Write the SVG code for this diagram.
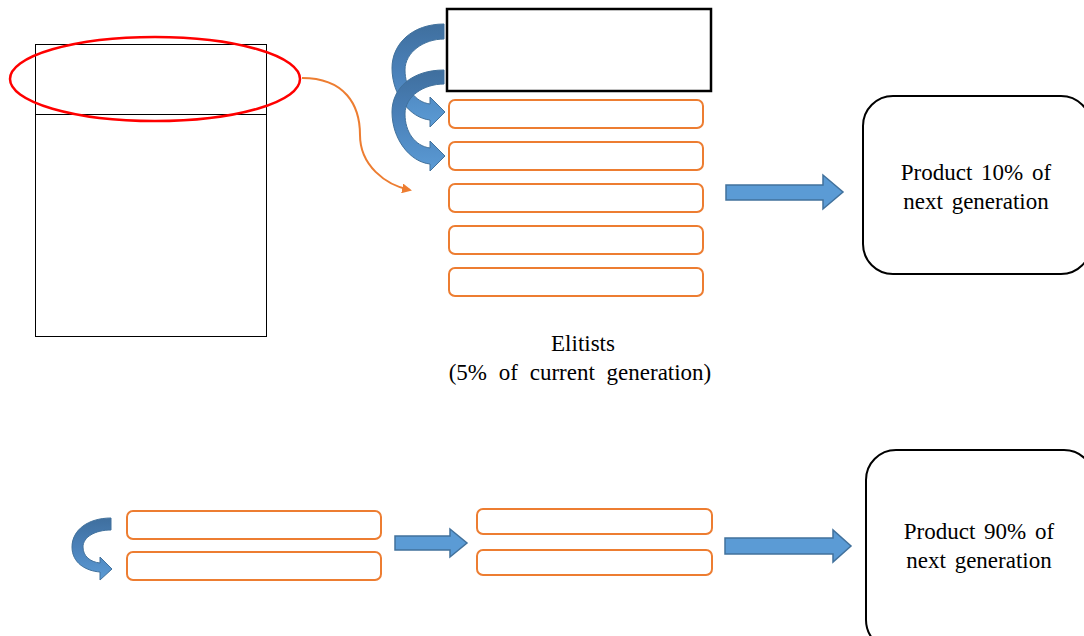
<svg xmlns="http://www.w3.org/2000/svg" width="1084" height="636" viewBox="0 0 1084 636">
<style>
.orect{fill:#fff;stroke:#ed7d31;stroke-width:2}
.blk{fill:#5b9bd5;stroke:#41719c;stroke-width:1.5}
.curv{stroke:#41719c;stroke-width:1}
.prod{fill:#fff;stroke:#000;stroke-width:2}
text{font-family:"Liberation Serif","Times New Roman",serif;font-size:23px;fill:#000;text-anchor:middle;word-spacing:3px}
</style>
<defs>
<marker id="oh" markerWidth="10" markerHeight="10" refX="8" refY="5" orient="auto" markerUnits="userSpaceOnUse">
<path d="M0,0 L10,5 L0,10 Z" fill="#ed7d31"/>
</marker>
<linearGradient id="rib" x1="0" y1="0" x2="0" y2="1">
<stop offset="0" stop-color="#3f6f9e"/>
<stop offset="0.45" stop-color="#4a80b8"/>
<stop offset="1" stop-color="#5b9bd5"/>
</linearGradient>
</defs>
<rect width="1084" height="636" fill="#fff"/>
<g id="population">
<rect x="35.5" y="44.5" width="231" height="292" fill="#fff" stroke="#000" stroke-width="1"/>
<line x1="35.5" y1="114.5" x2="266.5" y2="114.5" stroke="#000" stroke-width="1"/>
</g>
<g id="selection">
<ellipse cx="155" cy="79" rx="145" ry="42" fill="none" stroke="#ff0000" stroke-width="2.5"/>
</g>
<g id="best">
<rect x="447" y="9" width="264" height="82" fill="#fff" stroke="#000" stroke-width="2.5"/>
</g>
<g id="elitists">
<rect class="orect" x="449" y="100" width="254" height="28" rx="6"/>
<rect class="orect" x="449" y="142" width="254" height="28" rx="6"/>
<rect class="orect" x="449" y="184" width="254" height="28" rx="6"/>
<rect class="orect" x="449" y="226" width="254" height="28" rx="6"/>
<rect class="orect" x="449" y="268" width="254" height="28" rx="6"/>
<text x="583" y="351" font-family="Liberation Serif, serif">Elitists</text>
<text x="580" y="380" font-family="Liberation Serif, serif" style="word-spacing:6px">(5% of current generation)</text>
</g>
<g id="product10">
<rect class="prod" x="863" y="96" width="228" height="178" rx="30"/>
<text x="976" y="180" font-family="Liberation Serif, serif">Product 10% of</text>
<text x="976" y="209" font-family="Liberation Serif, serif">next generation</text>
</g>
<g id="crossA">
<rect class="orect" x="127" y="511" width="254" height="28" rx="6"/>
<rect class="orect" x="127" y="552" width="254" height="28" rx="6"/>
</g>
<g id="crossB">
<rect class="orect" x="477" y="509" width="235" height="25" rx="6"/>
<rect class="orect" x="477" y="550" width="235" height="25" rx="6"/>
</g>
<g id="product90">
<rect class="prod" x="866" y="450" width="228" height="200" rx="30"/>
<text x="979" y="539" font-family="Liberation Serif, serif">Product 90% of</text>
<text x="979" y="568" font-family="Liberation Serif, serif">next generation</text>
</g>
<g id="connectors">
<path d="M302,78 C345,78 360,105 360,135 C360,165 385,185 410,190" fill="none" stroke="#ed7d31" stroke-width="2" marker-end="url(#oh)"/>
<path class="curv" fill="url(#rib)" d="M444,24 C412,24 392,44 392,68 C392,95 410,118 430,120 L430,127 L445,112 L430,97 L430,104 C415,102 405,88 405,70 C405,52 424,39 444,39 Z"/>
<path class="curv" fill="url(#rib)" transform="translate(0,44)" d="M444,26 C412,26 392,44 392,68 C392,95 410,118 430,120 L430,127 L445,112 L430,97 L430,104 C415,102 405,88 405,70 C405,52 424,40 444,40 Z"/>
<path class="curv" fill="url(#rib)" d="M111,518 C88,518 72,530 72,547 C72,563 86,571 100,572 L100,580 L112,569 L100,557 L100,563 C90,562 83,556 83,547 C83,537 95,530 111,530 Z"/>
<path class="blk" d="M726,185 L823,185 L823,175 L843,192 L823,209 L823,200 L726,200 Z"/>
<path class="blk" d="M395,536 L450,536 L450,529 L467,543 L450,557 L450,550 L395,550 Z"/>
<path class="blk" d="M725,538 L833,538 L833,530 L851,546 L833,562 L833,554 L725,554 Z"/>
</g>
</svg>
